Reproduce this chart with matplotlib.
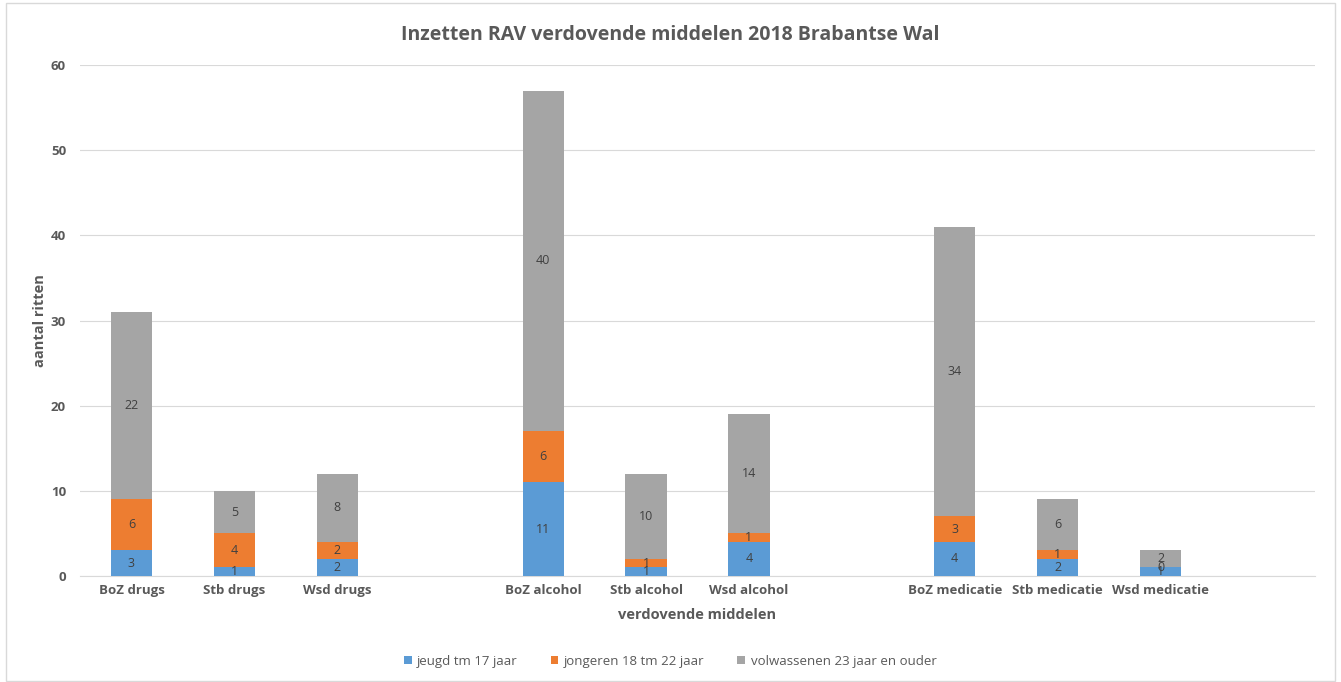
import numpy as np
import matplotlib
matplotlib.use("Agg")
import matplotlib.pyplot as plt
from matplotlib.patches import Rectangle

categories = ["BoZ drugs", "Stb drugs", "Wsd drugs", "",
              "BoZ alcohol", "Stb alcohol", "Wsd alcohol", "",
              "BoZ medicatie", "Stb medicatie", "Wsd medicatie", ""]
jeugd = [3, 1, 2, None, 11, 1, 4, None, 4, 2, 1, None]
jongeren = [6, 4, 2, None, 6, 1, 1, None, 3, 1, 0, None]
volwassenen = [22, 5, 8, None, 40, 10, 14, None, 34, 6, 2, None]
series_names = ["jeugd tm 17 jaar", "jongeren 18 tm 22 jaar", "volwassenen 23 jaar en ouder"]
colors = ["#5B9BD5", "#ED7D31", "#A5A5A5"]
yticks = [0, 10, 20, 30, 40, 50, 60]

plt.rcParams['font.family'] = ['Open Sans', 'DejaVu Sans']

fig = plt.figure(figsize=(13.41, 6.82), dpi=100)
ax = fig.add_axes([80/1341, 1-576/682, 1235/1341, 511/682])

x = np.arange(len(categories))
bottom = np.zeros(len(categories))
for name, vals, c in zip(series_names, [jeugd, jongeren, volwassenen], colors):
    v = np.array([np.nan if a is None else a for a in vals], dtype=float)
    vv = np.nan_to_num(v)
    bars = ax.bar(x, vv, 0.4, bottom=bottom, color=c, label=name, zorder=3)
    for i, b in enumerate(bars):
        if not np.isnan(v[i]):
            ax.text(b.get_x() + b.get_width()/2, bottom[i] + vv[i]/2, f"{int(v[i])}",
                    ha="center", va="center", fontsize=9, color="#404040", zorder=4)
    bottom = bottom + vv

ax.set_xlim(-0.5, len(categories) - 0.5)
ax.set_ylim(0, 60)
ax.set_yticks(yticks)
ax.set_xticks(x)
ax.set_xticklabels(categories, fontsize=9.5, color="#595959")
ax.tick_params(axis="y", labelsize=9.5, labelcolor="#595959", length=0, pad=10)
ax.tick_params(axis="x", length=0, pad=6)
for lbl in ax.get_yticklabels():
    lbl.set_fontweight("bold")
for lbl in ax.get_xticklabels():
    lbl.set_fontweight("bold")
ax.grid(axis="y", color="#D9D9D9", linewidth=0.8, zorder=0)
for s in ["top", "right", "left"]:
    ax.spines[s].set_visible(False)
ax.spines["bottom"].set_color("#D9D9D9")
ax.spines["bottom"].set_zorder(2)

ax.set_xlabel("verdovende middelen", fontsize=10.5, color="#595959", fontweight="bold", labelpad=8)
ax.set_ylabel("aantal ritten", fontsize=10.5, color="#595959", fontweight="bold", labelpad=3)

fig.text(0.5, 1-35/682, "Inzetten RAV verdovende middelen 2018 Brabantse Wal",
         ha="center", va="center", fontsize=14, fontweight="bold", color="#595959")

leg = fig.legend(loc="center", bbox_to_anchor=(670/1341, 1-661/682), ncol=3, frameon=False,
                 fontsize=9.5, handlelength=0.6, handleheight=0.6, columnspacing=2.5, handletextpad=0.4)
for t in leg.get_texts():
    t.set_color("#595959")

fig.patches.append(Rectangle((6/1341, 1/682), 1-12/1341, 1-4/682, transform=fig.transFigure,
                             fill=False, edgecolor="#D9D9D9", linewidth=1))

fig.savefig("out.png", dpi=100)
